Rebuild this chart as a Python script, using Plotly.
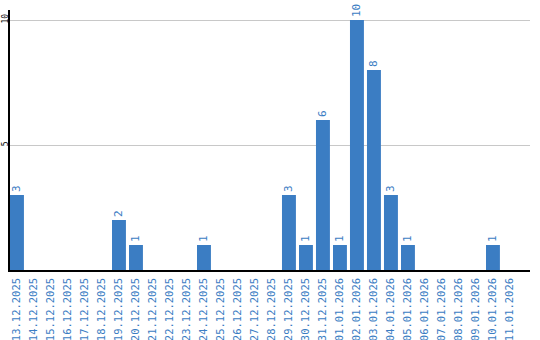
import plotly.graph_objects as go

dates = ["13.12.2025","14.12.2025","15.12.2025","16.12.2025","17.12.2025","18.12.2025",
         "19.12.2025","20.12.2025","21.12.2025","22.12.2025","23.12.2025","24.12.2025",
         "25.12.2025","26.12.2025","27.12.2025","28.12.2025","29.12.2025","30.12.2025",
         "31.12.2025","01.01.2026","02.01.2026","03.01.2026","04.01.2026","05.01.2026",
         "06.01.2026","07.01.2026","08.01.2026","09.01.2026","10.01.2026","11.01.2026"]
values = [3,0,0,0,0,0,2,1,0,0,0,1,0,0,0,0,3,1,6,1,10,8,3,1,0,0,0,0,1,0]
y_ticks = [5, 10]

blue = "#3b7dc3"
xs = list(range(len(dates)))
texts = [str(v) if v > 0 else "" for v in values]

fig = go.Figure(go.Bar(
    x=xs, y=values, width=0.82, marker=dict(color=blue, line=dict(width=0)),
    text=texts, textposition="outside", textangle=-90, constraintext="none",
    textfont=dict(family="DejaVu Sans Mono", size=11, color=blue),
    cliponaxis=False, hoverinfo="skip"))

fig.update_layout(
    width=540, height=340, margin=dict(l=10, r=10, t=10, b=70),
    paper_bgcolor="white", plot_bgcolor="white", showlegend=False,
    xaxis=dict(range=[-0.41, 30.18], tickmode="array", tickvals=xs, ticktext=dates,
               tickangle=-90, tickfont=dict(family="DejaVu Sans Mono", size=10.5, color=blue),
               showgrid=False, showline=True, linecolor="black", linewidth=1.5,
               ticks="", zeroline=False, automargin=False, ticklabelstandoff=2),
    yaxis=dict(range=[0, 10.4], tickmode="array", tickvals=y_ticks,
               ticktext=[str(t) for t in y_ticks], tickangle=-90,
               tickfont=dict(family="DejaVu Sans Mono", size=8, color="black"),
               showgrid=True, gridcolor="#c8c8c8", gridwidth=1,
               showline=True, linecolor="black", linewidth=1.5, ticks="",
               zeroline=False, automargin=False, ticklabelstandoff=-3),
)

fig.write_html("out.html")
